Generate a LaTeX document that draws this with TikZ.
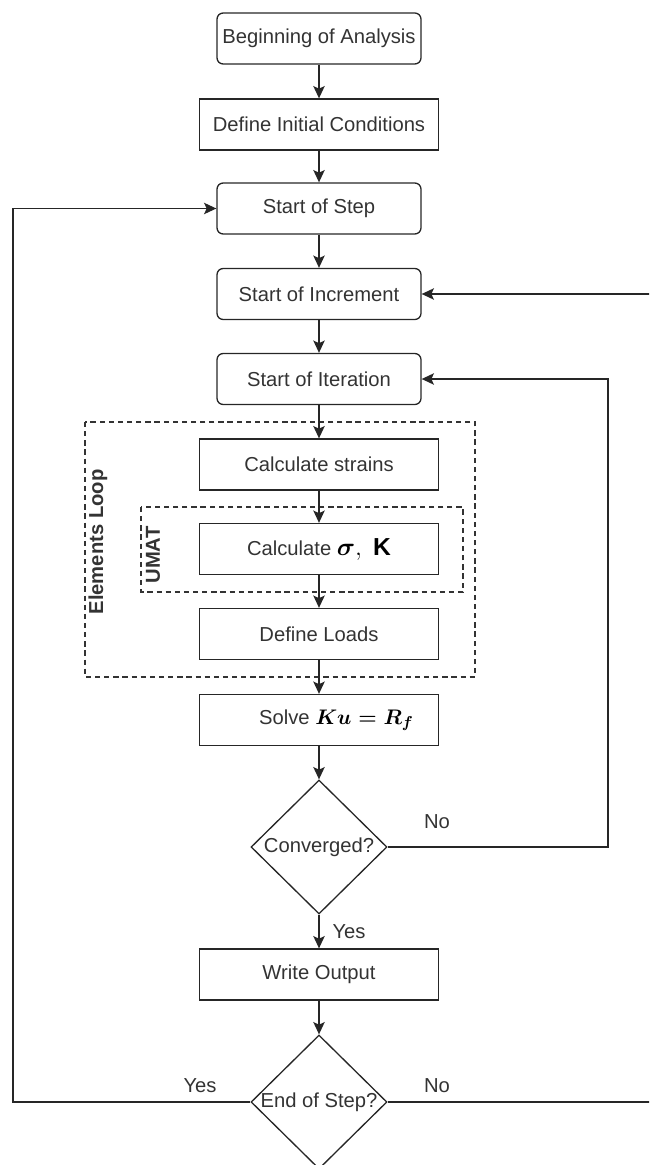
\documentclass[tikz,border=0pt]{standalone}
\usepackage{amsmath}
\usepackage{fontspec}
\setmainfont{Liberation Sans}
\usepackage{tikz}
\usetikzlibrary{shapes.geometric,arrows.meta}

\tikzset{
  every node/.style={font=\fontsize{11.5}{13}\selectfont, text=black!80},
  roundbox/.style={draw=black!85, line width=0.75pt, rounded corners=3.5pt,
    minimum width=4.08cm, minimum height=1.02cm, inner sep=0pt},
  plainbox/.style={draw=black!85, line width=0.75pt,
    minimum width=4.78cm, minimum height=1.02cm, inner sep=0pt},
  decision/.style={draw=black!85, line width=0.75pt, diamond,
    minimum width=2.72cm, minimum height=2.68cm, inner sep=0pt},
  flow/.style={draw=black!85, line width=0.75pt,
    -{Stealth[length=7pt,width=6.5pt,inset=1.5pt]}},
  loopbox/.style={draw=black!80, line width=0.75pt, dash pattern=on 3pt off 2.2pt},
  lbl/.style={text=black!80},
  looplbl/.style={font=\fontsize{11.5}{13}\selectfont\bfseries, rotate=90}
}

\begin{document}
\begin{tikzpicture}
      \useasboundingbox (0,0) rectangle (12.98,-23.3);
      \clip (0,0) rectangle (12.98,-23.3);

      %draw dashed loops
      \draw[loopbox] (1.70,-8.44) rectangle (9.50,-13.54);
      \draw[loopbox] (2.82,-10.14) rectangle (9.26,-11.84);
      \node[looplbl] (elemlbl) at (1.96,-10.84) {Elements Loop};
      \node[looplbl] (umatlbl) at (3.06,-11.10) {UMAT};

      %draw boxes
      \node[roundbox] (begin) at (6.38,-0.77) {Beginning of Analysis};
      \node[plainbox] (init) at (6.38,-2.49) {Define Initial Conditions};
      \node[roundbox] (step) at (6.38,-4.17) {Start of Step};
      \node[roundbox] (incr) at (6.38,-5.88) {Start of Increment};
      \node[roundbox] (iter) at (6.38,-7.58) {Start of Iteration};
      \node[plainbox] (strains) at (6.38,-9.29) {Calculate strains};
      \node[plainbox] (sigma) at (6.38,-10.98) {Calculate \textcolor{black}{\fontsize{14}{16}\selectfont$\boldsymbol{\sigma},\ \mathbf{K}$}};
      \node[plainbox] (loads) at (6.38,-12.68) {Define Loads};
      \node[plainbox] (solve) at (6.38,-14.40) {\hspace{0.7cm}Solve \textcolor{black}{\fontsize{13}{15}\selectfont$\boldsymbol{Ku=R_f}$}};
      \node[decision] (conv) at (6.38,-16.94) {\makebox[0pt]{Converged?}};
      \node[plainbox] (write) at (6.38,-19.49) {Write Output};
      \node[decision] (end) at (6.38,-22.04) {\makebox[0pt]{End of Step?}};

      %draw main flow
      \foreach \from/\to in {begin/init, init/step, step/incr, incr/iter,
        iter/strains, strains/sigma, sigma/loads, loads/solve, solve/conv}
        \draw[flow] (\from) -- (\to);
      \draw[flow] (conv) -- node[lbl, right=4pt] (yesconv) {Yes} (write);
      \draw[flow] (write) -- (end);

      % draw feedback lines
      \coordinate (leftx) at (0.26,0);
      \coordinate (iterx) at (12.16,0);
      \coordinate (rightx) at (13.40,0);
      \draw[flow] (conv.east) -- (conv.east -| iterx) |- (iter.east);
      \draw[flow] (end.west) -- (end.west -| leftx) |- (step.west);
      \draw[flow] (end.east) -- (end.east -| rightx) |- (incr.east);

      \node[lbl] (noconv) at (8.74,-16.44) {No};
      \node[lbl] (yesend) at (4.00,-21.72) {Yes};
      \node[lbl] (noend) at (8.74,-21.72) {No};
\end{tikzpicture}
\end{document}
